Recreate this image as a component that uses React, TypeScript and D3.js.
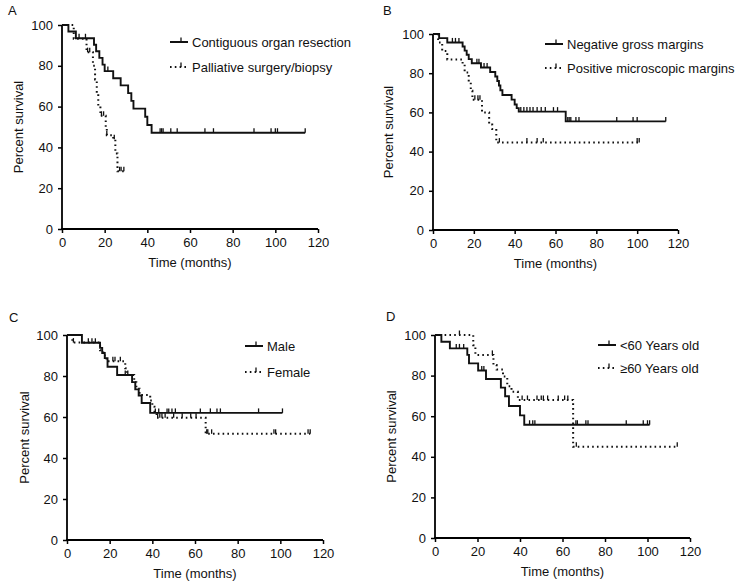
import * as d3 from 'd3';
import React from 'react';
import { useEffect, useRef } from 'react';

const monthTicks = [0, 20, 40, 60, 80, 100, 120];
const survivalTicks = [0, 20, 40, 60, 80, 100];

// A: contiguous organ resection vs palliative surgery
const contiguousSteps = [[0, 100], [3, 96.8], [6.5, 93.5], [15, 90.3], [16, 87.1], [17.5, 83.9], [19, 80.6], [20, 77.4], [24, 73.9], [27.5, 70.4], [31, 66.6], [32.5, 62.8], [33.5, 59], [39, 55], [40, 51], [42, 47.2]];
const contiguousCensor = [8, 11, 21.5, 46, 46.7, 47.4, 51, 54, 67, 71, 90, 98, 100, 101, 114];
const contiguousEnd = 114;
const palliativeSteps = [[0, 100], [5.5, 93.3], [11.5, 86.7], [14.5, 80], [15.5, 73.3], [16.3, 66.7], [17, 60], [18, 55.5], [20.5, 50], [21, 46], [24, 44], [25, 37], [26, 28.3]];
const palliativeCensor = [12, 13, 18.5, 19.5, 21, 24.5, 27, 27.7, 29];
const palliativeEnd = 29;

// B: margins
const negativeSteps = [[0, 100], [3, 97.9], [7, 95.7], [14.5, 93.6], [15.5, 91.5], [16.5, 89.4], [17.5, 87.2], [19, 85.1], [23.5, 82.9], [28, 80.6], [30.5, 78.3], [31.5, 76], [32.3, 73.7], [33, 71.3], [34, 68.9], [38.5, 66.5], [40, 64], [41, 62.2], [42, 60.4], [65, 55.4]];
const negativeCensor = [9.5, 11, 12.7, 21.5, 22.5, 25, 26.5, 43, 44.5, 46, 47.5, 49, 51, 53, 55, 59, 61, 66, 66.7, 67.5, 70, 71.5, 90, 98, 100, 114];
const negativeEnd = 114;
const positiveSteps = [[0, 100], [2.5, 95.7], [4.5, 91.3], [7, 87], [14.5, 84.8], [15.5, 80.4], [17.5, 75.7], [18.5, 71], [19.3, 66.4], [24, 60], [27.5, 53.8], [29, 51.5], [31, 44.6]];
const positiveCensor = [20.5, 22, 23, 32.5, 46, 51, 54, 100, 101];
const positiveEnd = 101;

// C: sex
const maleSteps = [[0, 100], [7, 96.2], [15.5, 93.7], [16.5, 91.2], [17.7, 88.7], [19, 84.5], [23.5, 80.5], [30.5, 77], [32, 73.5], [33.6, 70.5], [35, 66.8], [39, 62]];
const maleCensor = [10, 11.7, 13.3, 27.3, 41.4, 43, 46.9, 47.7, 49.2, 50.8, 62.5, 67.2, 70.3, 71.9, 89.8, 101];
const maleEnd = 101;
const femaleSteps = [[0, 100], [2.5, 96.3], [15.5, 92.6], [17, 90], [18.5, 87.2], [27.3, 83.8], [28, 80.5], [31.5, 77], [32.5, 73.8], [34, 70.7], [39, 68], [40, 65], [41, 62.3], [42, 59.6], [65, 51.8]];
const femaleCensor = [3, 21.5, 22.5, 25, 28.5, 42.5, 43.5, 44.5, 46, 50, 54, 58, 60.5, 65.5, 66, 67.8, 97, 97.8, 113, 114];
const femaleEnd = 114;

// D: age
const youngSteps = [[0, 100], [3, 96.7], [7, 93.4], [15.2, 90.2], [16, 86], [20.3, 82.5], [24, 78.3], [31, 74.1], [33, 69.8], [34.8, 65], [40, 60.4], [42, 55.8]];
const youngCensor = [10, 11.5, 13.5, 22, 23, 44.5, 46, 47, 66.3, 67, 71, 72, 90, 98, 100, 101];
const youngEnd = 101;
const olderSteps = [[0, 100], [18, 95], [19, 90.2], [27.5, 85.2], [29, 83], [32, 79.5], [34, 74.8], [36, 72], [39, 68], [65, 45]];
const olderCensor = [11.5, 27, 41, 43.5, 48, 50, 51, 53, 58, 61, 62.5, 66.5, 114];
const olderEnd = 114;

const panels = [
    {
        letter: 'A', x0: 62, x1: 318, y0: 229, y1: 25, lx: 8, ly: 15, legX: 170, legY: 42, legGap: 25, ylabX: 18,
        series: [
            { name: 'Contiguous organ resection', steps: contiguousSteps, censor: contiguousCensor, end: contiguousEnd, dotted: false },
            { name: 'Palliative surgery/biopsy', steps: palliativeSteps, censor: palliativeCensor, end: palliativeEnd, dotted: true },
        ],
    },
    {
        letter: 'B', x0: 433, x1: 678, y0: 230, y1: 34, lx: 383, ly: 15, legX: 545, legY: 44, legGap: 24, ylabX: 388,
        series: [
            { name: 'Negative gross margins', steps: negativeSteps, censor: negativeCensor, end: negativeEnd, dotted: false },
            { name: 'Positive microscopic margins', steps: positiveSteps, censor: positiveCensor, end: positiveEnd, dotted: true },
        ],
    },
    {
        letter: 'C', x0: 67, x1: 323, y0: 540, y1: 335, lx: 9, ly: 322, legX: 245, legY: 346, legGap: 26, ylabX: 24,
        series: [
            { name: 'Male', steps: maleSteps, censor: maleCensor, end: maleEnd, dotted: false },
            { name: 'Female', steps: femaleSteps, censor: femaleCensor, end: femaleEnd, dotted: true },
        ],
    },
    {
        letter: 'D', x0: 435, x1: 690, y0: 538, y1: 335, lx: 386, ly: 321, legX: 598, legY: 345, legGap: 23, ylabX: 391,
        series: [
            { name: '<60 Years old', steps: youngSteps, censor: youngCensor, end: youngEnd, dotted: false },
            { name: '\u226560 Years old', steps: olderSteps, censor: olderCensor, end: olderEnd, dotted: true },
        ],
    },
];

const FONT = '"Liberation Sans", Arial, sans-serif';

export default function App() {
    const ref = useRef<any>();

    useEffect(() => {
        document.body.style.margin = '0';
        const svg = d3.select<any, any>(ref.current);
        svg.selectAll('*').remove();
        svg.attr('width', 742).attr('height', 586).style('background', '#fff');

        panels.forEach((p: any) => {
            const g = svg.append('g').attr('font-family', FONT);
            const xScale = d3.scaleLinear().domain([0, 120]).range([p.x0, p.x1]);
            const yScale = d3.scaleLinear().domain([0, 100]).range([p.y0, p.y1]);

            //x axis
            const xAxis = d3.axisBottom(xScale).tickValues(monthTicks).tickSize(4).tickPadding(5).tickSizeOuter(0);
            const xg = g.append('g').attr('transform', `translate(0, ${p.y0})`).call(xAxis);
            xg.select('.domain').attr('stroke-width', 1.8).attr('d', `M${p.x0 - 1},0H${p.x1}`);
            xg.selectAll('.tick line').attr('stroke-width', 1.5);
            xg.selectAll('text').attr('font-size', 13).attr('fill', '#111').attr('font-family', FONT);

            //y axis
            const yAxis = d3.axisLeft(yScale).tickValues(survivalTicks).tickSize(4).tickPadding(5).tickSizeOuter(0);
            const yg = g.append('g').attr('transform', `translate(${p.x0}, 0)`).call(yAxis);
            yg.select('.domain').attr('stroke-width', 1.8).attr('d', `M0,${p.y0 + 1}V${p.y1}`);
            yg.selectAll('.tick line').attr('stroke-width', 1.5);
            yg.selectAll('text').attr('font-size', 13).attr('fill', '#111').attr('font-family', FONT);

            //titles
            g.append('text')
                .attr('x', (p.x0 + p.x1) / 2)
                .attr('y', p.y0 + 38)
                .attr('text-anchor', 'middle')
                .attr('font-size', 13)
                .attr('fill', '#111')
                .text('Time (months)');
            g.append('text')
                .attr('transform', `translate(${p.ylabX}, ${(p.y0 + p.y1) / 2}) rotate(-90)`)
                .attr('text-anchor', 'middle')
                .attr('dy', '0.35em')
                .attr('font-size', 13)
                .attr('fill', '#111')
                .text('Percent survival');
            g.append('text')
                .attr('x', p.lx)
                .attr('y', p.ly)
                .attr('font-size', 13)
                .attr('fill', '#111')
                .text(p.letter);

            const line = d3.line<any>()
                .x((d: any) => xScale(d[0]))
                .y((d: any) => yScale(d[1]))
                .curve(d3.curveStepAfter);

            p.series.forEach((s: any, i: number) => {
                const pts = [...s.steps, [s.end, s.steps[s.steps.length - 1][1]]];
                g.append('path')
                    .attr('d', line(pts))
                    .attr('fill', 'none')
                    .attr('stroke', '#111')
                    .attr('stroke-width', s.dotted ? 2 : 1.9)
                    .attr('stroke-dasharray', s.dotted ? '1.6 3.2' : null);

                const survAt = (t: number) => {
                    const idx = d3.bisector((d: any) => d[0]).right(s.steps, t) - 1;
                    return s.steps[Math.max(0, idx)][1];
                };
                g.selectAll(null).data(s.censor).join('line')
                    .attr('x1', (t: any) => xScale(t))
                    .attr('x2', (t: any) => xScale(t))
                    .attr('y1', (t: any) => yScale(survAt(t)))
                    .attr('y2', (t: any) => yScale(survAt(t)) - 4.5)
                    .attr('stroke', '#111')
                    .attr('stroke-width', 1.3);

                //legend
                const ly = p.legY + i * p.legGap;
                g.append('line')
                    .attr('x1', p.legX).attr('x2', p.legX + 18)
                    .attr('y1', ly).attr('y2', ly)
                    .attr('stroke', '#111')
                    .attr('stroke-width', 2)
                    .attr('stroke-dasharray', s.dotted ? '1.6 3.2' : null);
                g.append('line')
                    .attr('x1', p.legX + 11).attr('x2', p.legX + 11)
                    .attr('y1', ly).attr('y2', ly - 4.5)
                    .attr('stroke', '#111')
                    .attr('stroke-width', 1.3);
                g.append('text')
                    .attr('x', p.legX + 22)
                    .attr('y', ly)
                    .attr('dy', '0.35em')
                    .attr('font-size', 13)
                    .attr('fill', '#111')
                    .text(s.name);
            });
        });
    });

    return (
        <React.Fragment>
            <svg ref={ref}></svg>
        </React.Fragment>
    );
}
